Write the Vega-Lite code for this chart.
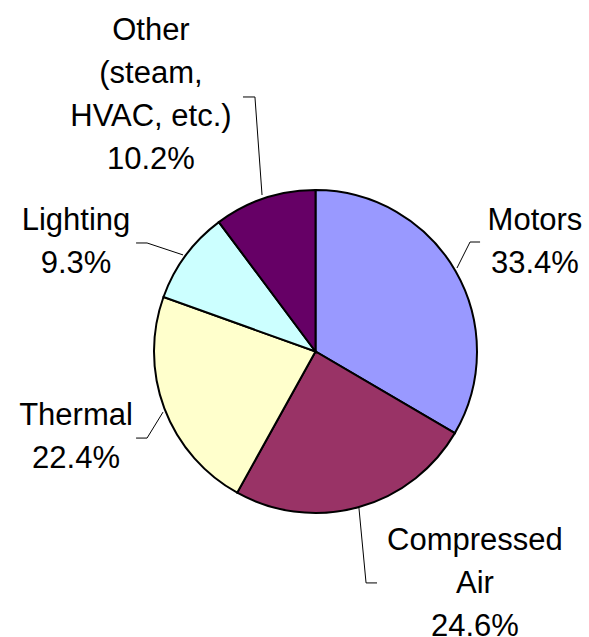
{
  "$schema": "https://vega.github.io/schema/vega-lite/v6.json",
  "width": 547,
  "height": 571,
  "autosize": {"type": "none"},
  "padding": {"left": 42, "top": 66, "right": 0, "bottom": 0},
  "background": "white",
  "config": {"view": {"stroke": null}},
  "datasets": {
    "slices": [
      {"category": "Motors", "share": 33.4, "ord": 1},
      {"category": "Compressed Air", "share": 24.6, "ord": 2},
      {"category": "Thermal", "share": 22.4, "ord": 3},
      {"category": "Lighting", "share": 9.3, "ord": 4},
      {"category": "Other", "share": 10.2, "ord": 5}
    ],
    "leaders": [
      {"category": "Other", "seq": 1, "x": -0.449, "y": 1.576},
      {"category": "Other", "seq": 2, "x": -0.375, "y": 1.576},
      {"category": "Other", "seq": 3, "x": -0.331, "y": 0.969},
      {"category": "Motors", "seq": 1, "x": 1.019, "y": 0.678},
      {"category": "Motors", "seq": 2, "x": 0.957, "y": 0.678},
      {"category": "Motors", "seq": 3, "x": 0.876, "y": 0.517},
      {"category": "Thermal", "seq": 1, "x": -1.111, "y": -0.536},
      {"category": "Thermal", "seq": 2, "x": -1.043, "y": -0.536},
      {"category": "Thermal", "seq": 3, "x": -0.944, "y": -0.375},
      {"category": "Compressed Air", "seq": 1, "x": 0.269, "y": -0.969},
      {"category": "Compressed Air", "seq": 2, "x": 0.313, "y": -1.433},
      {"category": "Compressed Air", "seq": 3, "x": 0.381, "y": -1.433},
      {"category": "Lighting", "seq": 1, "x": -1.111, "y": 0.672},
      {"category": "Lighting", "seq": 2, "x": -1.043, "y": 0.672},
      {"category": "Lighting", "seq": 3, "x": -0.82, "y": 0.598}
    ],
    "labels": [
      {"category": "Motors", "text": "Motors\n33.4%", "x": 1.359, "y": 0.752},
      {"category": "Compressed Air", "text": "Compressed\nAir\n24.6%", "x": 0.987, "y": -1.229},
      {"category": "Thermal", "text": "Thermal\n22.4%", "x": -1.483, "y": -0.455},
      {"category": "Lighting", "text": "Lighting\n9.3%", "x": -1.483, "y": 0.752},
      {"category": "Other", "text": "Other\n(steam,\nHVAC, etc.)\n10.2%", "x": -1.019, "y": 1.929}
    ]
  },
  "layer": [
    {
      "data": {"name": "slices"},
      "mark": {"type": "arc", "outerRadius": 161.5, "stroke": "#000000", "strokeWidth": 2},
      "encoding": {
        "theta": {"field": "share", "type": "quantitative", "stack": true},
        "order": {"field": "ord", "type": "quantitative"},
        "color": {
          "field": "category",
          "type": "nominal",
          "scale": {
            "domain": ["Motors", "Compressed Air", "Thermal", "Lighting", "Other"],
            "range": ["#9999FF", "#993366", "#FFFFCC", "#CCFFFF", "#660066"]
          },
          "legend": null
        }
      }
    },
    {
      "data": {"name": "leaders"},
      "mark": {"type": "line", "stroke": "#000000", "strokeWidth": 1},
      "encoding": {
        "x": {"field": "x", "type": "quantitative", "scale": {"domain": [-1.6935, 1.6935], "nice": false, "zero": false}, "axis": null},
        "y": {"field": "y", "type": "quantitative", "scale": {"domain": [-1.7678, 1.7678], "nice": false, "zero": false}, "axis": null},
        "detail": {"field": "category"},
        "order": {"field": "seq", "type": "quantitative"}
      }
    },
    {
      "data": {"name": "labels"},
      "mark": {"type": "text", "font": "Liberation Sans", "fontSize": 31, "lineHeight": 43, "lineBreak": "\n", "align": "center", "baseline": "alphabetic", "color": "#000000"},
      "encoding": {
        "x": {"field": "x", "type": "quantitative", "scale": {"domain": [-1.6935, 1.6935], "nice": false, "zero": false}, "axis": null},
        "y": {"field": "y", "type": "quantitative", "scale": {"domain": [-1.7678, 1.7678], "nice": false, "zero": false}, "axis": null},
        "text": {"field": "text"}
      }
    }
  ]
}
